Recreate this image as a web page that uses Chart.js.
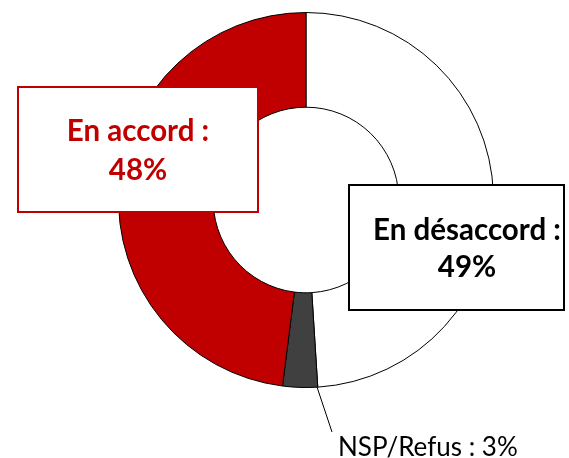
<!DOCTYPE html>
<html>
<head>
<meta charset="utf-8">
<script src="https://cdn.jsdelivr.net/npm/chart.js@4"></script>
<style>
  html, body { margin: 0; padding: 0; background: #fff; }
  #wrap { width: 569px; height: 458px; }
</style>
</head>
<body>
<div id="wrap"><canvas id="chart" width="569" height="458"></canvas></div>
<script>
// values, clockwise from the top
const categories = ["En désaccord", "NSP/Refus", "En accord"];
const values = [49, 3, 48];
const sliceColors = ["#FFFFFF", "#404040", "#C00000"];

// callout boxes, offsets measured from the centre of the ring
const callouts = [
  { index: 2, box: [-288, -113, 240, 125], text: [-168, -59, -20], color: "#C00000", border: "#C00000" },
  { index: 0, box: [43, -15, 215, 125], text: [161, 40, 77], color: "#000000", border: "#000000" }
];

const labelPlugin = {
  id: "labelPlugin",
  afterDraw(chart) {
    const ctx = chart.ctx;
    const meta = chart.getDatasetMeta(0);
    const arc = meta.data[0];
    const cx = arc.x, cy = arc.y;

    ctx.save();
    callouts.forEach(c => {
      const [bx, by, bw, bh] = c.box;
      ctx.fillStyle = "#fff";
      ctx.fillRect(cx + bx, cy + by, bw, bh);
      ctx.lineWidth = 2;
      ctx.strokeStyle = c.border;
      ctx.strokeRect(cx + bx, cy + by, bw, bh);

      ctx.fillStyle = c.color;
      ctx.font = "bold 29.5px Lato";
      ctx.textAlign = "center";
      ctx.textBaseline = "alphabetic";
      ctx.fillText(categories[c.index] + " :", cx + c.text[0], cy + c.text[1]);
      ctx.fillText(values[c.index] + "%", cx + c.text[0], cy + c.text[2]);
    });

    // small slice: leader line and plain label
    ctx.strokeStyle = "#000";
    ctx.lineWidth = 1;
    ctx.beginPath();
    ctx.moveTo(cx + 11, cy + 187);
    ctx.lineTo(cx + 26, cy + 232);
    ctx.stroke();
    ctx.fillStyle = "#000";
    ctx.font = "26px Lato";
    ctx.textAlign = "left";
    ctx.fillText(categories[1] + " : " + values[1] + "%", cx + 32, cy + 256);
    ctx.restore();
  }
};

new Chart(document.getElementById("chart"), {
  type: "doughnut",
  data: {
    labels: categories,
    datasets: [{
      data: values,
      backgroundColor: sliceColors,
      borderColor: "#000",
      borderWidth: 1
    }]
  },
  options: {
    responsive: false,
    animation: false,
    cutout: "49.5%",
    layout: { padding: { left: 118, right: 75, top: 12, bottom: 70 } },
    plugins: {
      legend: { display: false },
      tooltip: { enabled: false }
    },
    events: []
  },
  plugins: [labelPlugin]
});
</script>
</body>
</html>
